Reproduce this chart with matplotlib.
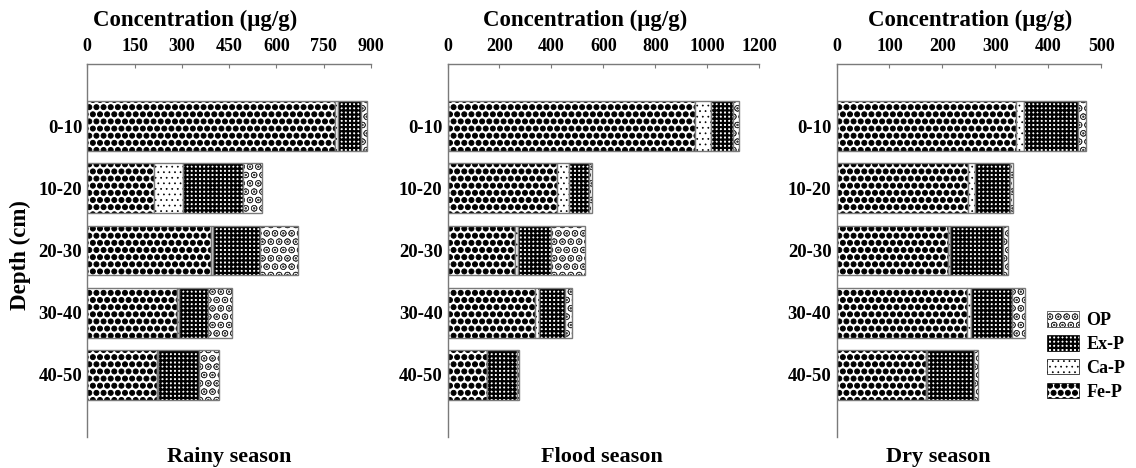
import matplotlib
matplotlib.use("Agg")
import matplotlib.pyplot as plt
import matplotlib.hatch as mhatch
from matplotlib.patches import Patch
import numpy as np

plt.rcParams['font.family'] = ['Liberation Serif', 'DejaVu Serif']
plt.rcParams['font.weight'] = 'bold'

depths = ['0-10', '10-20', '20-30', '30-40', '40-50']
seasons = ['Rainy season', 'Flood season', 'Dry season']
fractions = ['Fe-P', 'Ca-P', 'Ex-P', 'OP']

rainy_fe = [786, 213, 391, 286, 222]
rainy_ca = [10, 90, 8, 4, 3]
rainy_ex = [72, 192, 149, 92, 130]
rainy_op = [20, 58, 121, 76, 63]

flood_fe = [952, 420, 260, 337, 151]
flood_ca = [64, 47, 10, 14, 1]
flood_ex = [83, 77, 127, 101, 114]
flood_op = [22, 12, 133, 29, 8]

dry_fe = [339, 249, 210, 246, 169]
dry_ca = [15, 13, 5, 8, 2]
dry_ex = [103, 65, 100, 77, 88]
dry_op = [15, 6, 9, 25, 8]

xmax = [900, 1200, 500]
xticks = [[0, 150, 300, 450, 600, 750, 900],
          [0, 200, 400, 600, 800, 1000, 1200],
          [0, 100, 200, 300, 400, 500]]

season_data = [
    [rainy_fe, rainy_ca, rainy_ex, rainy_op],
    [flood_fe, flood_ca, flood_ex, flood_op],
    [dry_fe, dry_ca, dry_ex, dry_op],
]


# large filled dots hatch (triggered by '*'); even row count required
class BigDots(mhatch.Circles):
    size = 0.35
    filled = True

    def __init__(self, hatch, density):
        self.num_rows = hatch.count('*') * 14
        super().__init__(hatch, density)


mhatch._hatch_types = [BigDots if t is mhatch.Stars else t
                       for t in mhatch._hatch_types]

hatches = {'Fe-P': '*', 'Ca-P': '...', 'Ex-P': '++++', 'OP': 'OO..'}
hatch_lw = {'Fe-P': 0.7, 'Ca-P': 0.5, 'Ex-P': 1.6, 'OP': 0.5}
hatch_col = {'Fe-P': 'black', 'Ca-P': 'black', 'Ex-P': 'black', 'OP': '#333333'}

W, H = 1136, 468
fig = plt.figure(figsize=(W / 100, H / 100), dpi=100)

ax_px = [(87.3, 371.0), (447.5, 759.3), (836.5, 1101.2)]
top_px, bot_px = 64, 437
title_x = [195, 585, 970]
season_x = [229, 602, 938]
grey = '#7a7a7a'


def wrap_hlw(p, lw):
    if hasattr(p, 'set_hatch_linewidth'):
        p.set_hatch_linewidth(lw)
    orig = p.draw

    def draw(renderer, _orig=orig, _lw=lw):
        with plt.rc_context({'hatch.linewidth': _lw}):
            return _orig(renderer)
    p.draw = draw


y = np.arange(len(depths))
for i in range(3):
    x0, x1 = ax_px[i]
    ax = fig.add_axes([x0 / W, 1 - bot_px / H, (x1 - x0) / W, (bot_px - top_px) / H])
    left = np.zeros(len(depths))
    for name, vals in zip(fractions, season_data[i]):
        vals = np.array(vals, dtype=float)
        bars = ax.barh(y, vals, left=left, height=0.8, facecolor='white',
                       edgecolor=hatch_col[name], linewidth=0, hatch=hatches[name])
        for p in bars:
            wrap_hlw(p, hatch_lw[name])
        ax.barh(y, vals, left=left, height=0.8, fill=False,
                edgecolor=grey, linewidth=1.0)
        left = left + vals
    ax.set_xlim(0, xmax[i])
    ax.set_ylim(5, -1)
    ax.set_xticks(xticks[i])
    ax.set_yticks(y)
    ax.set_yticklabels(depths)
    ax.xaxis.tick_top()
    ax.tick_params(axis='x', direction='in', length=3, width=0.8, color=grey,
                   pad=6.5, labelsize=13)
    ax.tick_params(axis='y', length=0, pad=3.6, labelsize=13.5)
    for lab in ax.get_xticklabels() + ax.get_yticklabels():
        lab.set_fontweight('bold')
    ax.spines['right'].set_visible(False)
    ax.spines['bottom'].set_visible(False)
    ax.spines['left'].set_color(grey)
    ax.spines['top'].set_color(grey)
    ax.spines['left'].set_linewidth(1.0)
    ax.spines['top'].set_linewidth(1.0)
    fig.text(title_x[i] / W, 1 - 20 / H, 'Concentration (μg/g)', ha='center',
             va='center', fontsize=16.5, fontweight='bold')
    fig.text(season_x[i] / W, 1 - 457 / H, seasons[i], ha='center',
             va='center', fontsize=16, fontweight='bold')

legend_order = ['OP', 'Ex-P', 'Ca-P', 'Fe-P']
handles = [Patch(facecolor='white', edgecolor=hatch_col[n], linewidth=0.5,
                 hatch=hatches[n], label=n) for n in legend_order]
leg = fig.legend(handles=handles, loc='upper left',
                 bbox_to_anchor=(1047 / W, 1 - 311 / H),
                 frameon=False, borderpad=0, borderaxespad=0,
                 handlelength=1.78, handleheight=0.95,
                 handletextpad=0.4, labelspacing=0.33,
                 prop={'size': 13, 'weight': 'bold'})
for p, n in zip(leg.get_patches(), legend_order):
    wrap_hlw(p, hatch_lw[n])

fig.text(20 / W, 1 - 255 / H, 'Depth (cm)', rotation=90, ha='center',
         va='center', fontsize=16.5, fontweight='bold')

fig.savefig('out.png', dpi=100)
